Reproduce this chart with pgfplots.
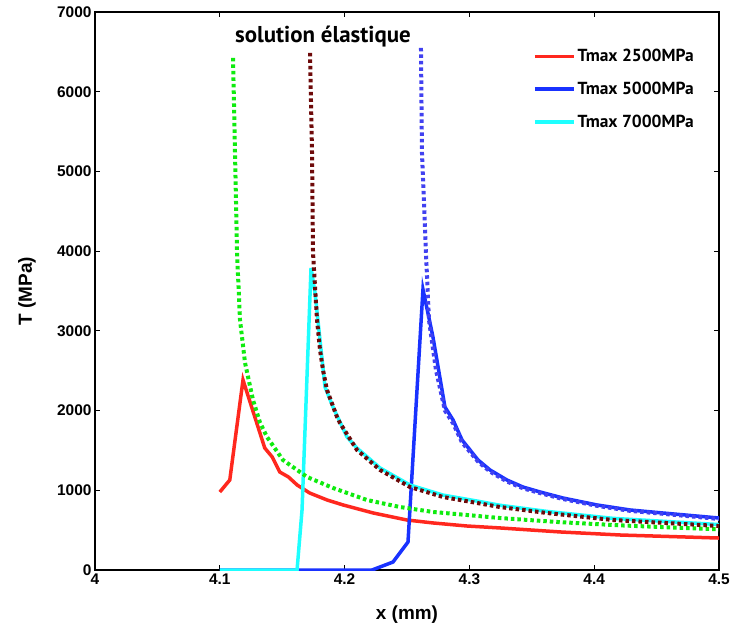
\documentclass[border=0pt]{standalone}
\usepackage{fontspec}
\setmainfont{Liberation Sans}
\newfontfamily\myriad{PT Sans}
\usepackage{pgfplots}
\pgfplotsset{compat=1.18}
\definecolor{cred}{RGB}{255,40,30}
\definecolor{cblue}{RGB}{25,50,255}
\definecolor{ccyan}{RGB}{30,255,255}
\definecolor{cgreen}{RGB}{15,235,15}
\definecolor{cbrown}{RGB}{110,10,10}
\definecolor{cdblue}{RGB}{65,65,240}
\begin{document}
\begin{tikzpicture}
\path[use as bounding box] (-95bp,-60bp) rectangle (639bp,570bp);
\begin{axis}[
  scale only axis, width=624bp, height=558bp,
  xmin=4, xmax=4.5, ymin=0, ymax=7000,
  xtick={4,4.1,4.2,4.3,4.4,4.5},
  xticklabels={4,4.1,4.2,4.3,4.4,4.5},
  ytick={0,1000,2000,3000,4000,5000,6000,7000},
  scaled ticks=false,
  /pgf/number format/assume math mode=true,
  tick label style={font=\bfseries\fontsize{15.5}{18}\selectfont},
  yticklabel={\pgfmathprintnumber[fixed,1000 sep={}]{\tick}},
  tick align=inside, major tick length=5bp,
  tick style={black, line width=1bp},
  axis line style={line width=1.2bp},
  xlabel={x (mm)}, ylabel={T (MPa)},
  label style={font=\bfseries\fontsize{19}{22}\selectfont},
  xlabel style={at={(axis description cs:0.5,-0.0806)}, anchor=center},
  ylabel style={at={(axis description cs:-0.109,0.5)}, anchor=center},
  legend style={draw=none, fill=none, at={(rel axis cs:0.702,0.937)}, anchor=north west,
    font=\myriad\bfseries\fontsize{17.5}{21}\selectfont, row sep=15bp, inner sep=0pt,
    /tikz/every even column/.append style={column sep=17bp}},
  legend cell align=left,
  legend image code/.code={\draw[#1] (0bp,0bp) -- (39bp,0bp);},
  clip=true,
]
% Solid curves
\addplot[cred, line width=3.5bp] coordinates {
(4.1,978) (4.108,1129) (4.1186,2384) (4.136,1531) (4.142,1418) (4.148,1230)
(4.155,1167) (4.162,1066) (4.172,966) (4.186,878) (4.199,815) (4.223,715)
(4.25,627) (4.271,590) (4.298,552) (4.325,527) (4.373,477) (4.421,439) (4.5,401)};
\addlegendentry{Tmax 2500MPa}
\addplot[cblue, line width=3.5bp] coordinates {
(4.1,0) (4.222,0) (4.2388,100) (4.2508,351) (4.2628,3520) (4.2708,2923)
(4.2804,2045) (4.2869,1882) (4.2941,1631) (4.3005,1506) (4.3069,1380)
(4.3165,1255) (4.3301,1129) (4.3429,1041) (4.3566,979) (4.375,903)
(4.4022,816) (4.4287,753) (4.4551,715) (4.5,652)};
\addlegendentry{Tmax 5000MPa}
\addplot[ccyan, line width=3.5bp] coordinates {
(4.1,0) (4.1619,0) (4.1659,753) (4.1731,3789) (4.1763,3475) (4.1843,2296)
(4.1907,2045) (4.2019,1669) (4.2099,1530) (4.2284,1280) (4.2524,1066)
(4.2788,940) (4.3061,865) (4.3245,812) (4.3622,735) (4.4151,648) (4.5,570)};
\addlegendentry{Tmax 7000MPa}
% Elastic solutions (dotted)
\addplot[cgreen, line width=4bp, dash pattern=on 3.5bp off 3bp, forget plot] coordinates {
(4.1106,6424) (4.1122,5232) (4.1138,3977) (4.1162,3137) (4.1202,2600)
(4.1266,2133) (4.1322,1850) (4.1378,1669) (4.1506,1380) (4.1699,1167)
(4.1907,1029) (4.2179,878) (4.2444,790) (4.2708,728) (4.2981,690)
(4.3245,652) (4.3726,600) (4.4207,560) (4.5,510)};
\addplot[cbrown, line width=4bp, dash pattern=on 3.5bp off 3bp, forget plot] coordinates {
(4.1723,6487) (4.1739,5232) (4.1747,3977) (4.1779,3137) (4.1803,2760)
(4.1827,2509) (4.1859,2258) (4.1939,1920) (4.1963,1844) (4.2099,1506)
(4.2284,1255) (4.2524,1041) (4.2788,916) (4.3061,841) (4.3245,790)
(4.3622,715) (4.4151,627) (4.5,552)};
\addplot[cdblue, line width=4bp, dash pattern=on 3.5bp off 3bp, forget plot] coordinates {
(4.2612,6550) (4.262,5232) (4.2652,3977) (4.2676,3137) (4.2732,2509)
(4.2804,2000) (4.2869,1840) (4.2941,1600) (4.3005,1480) (4.3069,1360)
(4.3165,1235) (4.3301,1110) (4.3429,1025) (4.3566,965) (4.375,890)
(4.4022,805) (4.4287,742) (4.4551,705) (4.5,640)};
\node[font=\myriad\bfseries\fontsize{23}{26}\selectfont] at (axis cs:4.1827,6690) {solution élastique};
\end{axis}
\end{tikzpicture}
\end{document}
